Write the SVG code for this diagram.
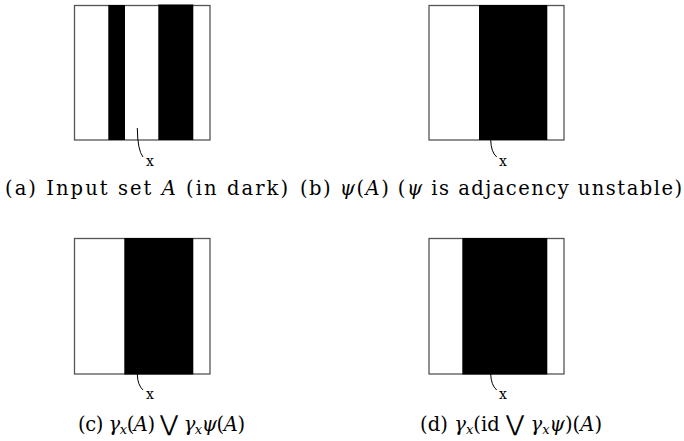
<svg xmlns="http://www.w3.org/2000/svg" width="684" height="441" viewBox="0 0 684 441">
<style>
.frame{fill:#fff;stroke:#555;stroke-width:1.3}
.bar{fill:#000}
.lead{fill:none;stroke:#000;stroke-width:1}
.xl{font-family:"DejaVu Serif","Liberation Serif",serif;font-size:14px;fill:#000}
.cap{font-family:"DejaVu Serif","Liberation Serif",serif;font-size:19.5px;fill:#000}
.it{font-style:italic}
.sub{font-size:13px;font-style:italic}
.big{font-size:22px}
</style>
<rect width="684" height="441" fill="#fff"/>
<g id="panel-a">
<rect class="frame" x="74.5" y="5.5" width="135.5" height="134.5"/>
<rect class="bar" x="108.3" y="5" width="16.7" height="135"/>
<rect class="bar" x="158.3" y="4.5" width="35" height="135.5"/>
<path class="lead" d="M137.3,128 Q137.5,150 143,157"/>
<text class="xl" x="146" y="166">x</text>
<text class="cap" x="5" y="195" textLength="283" lengthAdjust="spacing">(a) Input set <tspan class="it">A</tspan> (in dark)</text>
</g>
<g id="panel-b">
<rect class="frame" x="429" y="5.5" width="135" height="134.5"/>
<rect class="bar" x="479" y="5" width="68.3" height="135"/>
<path class="lead" d="M490.7,140 Q491,152 496.7,157"/>
<text class="xl" x="499" y="166">x</text>
<text class="cap" x="300" y="195" textLength="382" lengthAdjust="spacing">(b) <tspan class="it">ψ</tspan>(<tspan class="it">A</tspan>) (<tspan class="it">ψ</tspan> is adjacency unstable)</text>
</g>
<g id="panel-c">
<rect class="frame" x="74.5" y="238.5" width="135.5" height="135.5"/>
<rect class="bar" x="124.3" y="238" width="69" height="136.5"/>
<path class="lead" d="M137.3,374 Q137.5,385 143,390"/>
<text class="xl" x="146" y="399">x</text>
<text class="cap" x="78" y="431" textLength="167" lengthAdjust="spacing">(c) <tspan class="it">γ</tspan><tspan class="sub" dy="3">x</tspan><tspan dy="-3">(</tspan><tspan class="it">A</tspan>) <tspan class="big">⋁</tspan> <tspan class="it">γ</tspan><tspan class="sub" dy="3">x</tspan><tspan class="it" dy="-3">ψ</tspan>(<tspan class="it">A</tspan>)</text>
</g>
<g id="panel-d">
<rect class="frame" x="429" y="238.5" width="135" height="135.5"/>
<rect class="bar" x="462.3" y="238" width="85" height="136.5"/>
<path class="lead" d="M490.7,374 Q491,385 496.7,390"/>
<text class="xl" x="499" y="399">x</text>
<text class="cap" x="420" y="431" textLength="182" lengthAdjust="spacing">(d) <tspan class="it">γ</tspan><tspan class="sub" dy="3">x</tspan><tspan dy="-3">(id </tspan><tspan class="big">⋁</tspan> <tspan class="it">γ</tspan><tspan class="sub" dy="3">x</tspan><tspan class="it" dy="-3">ψ</tspan>)(<tspan class="it">A</tspan>)</text>
</g>
<g id="connectors"></g>
</svg>
